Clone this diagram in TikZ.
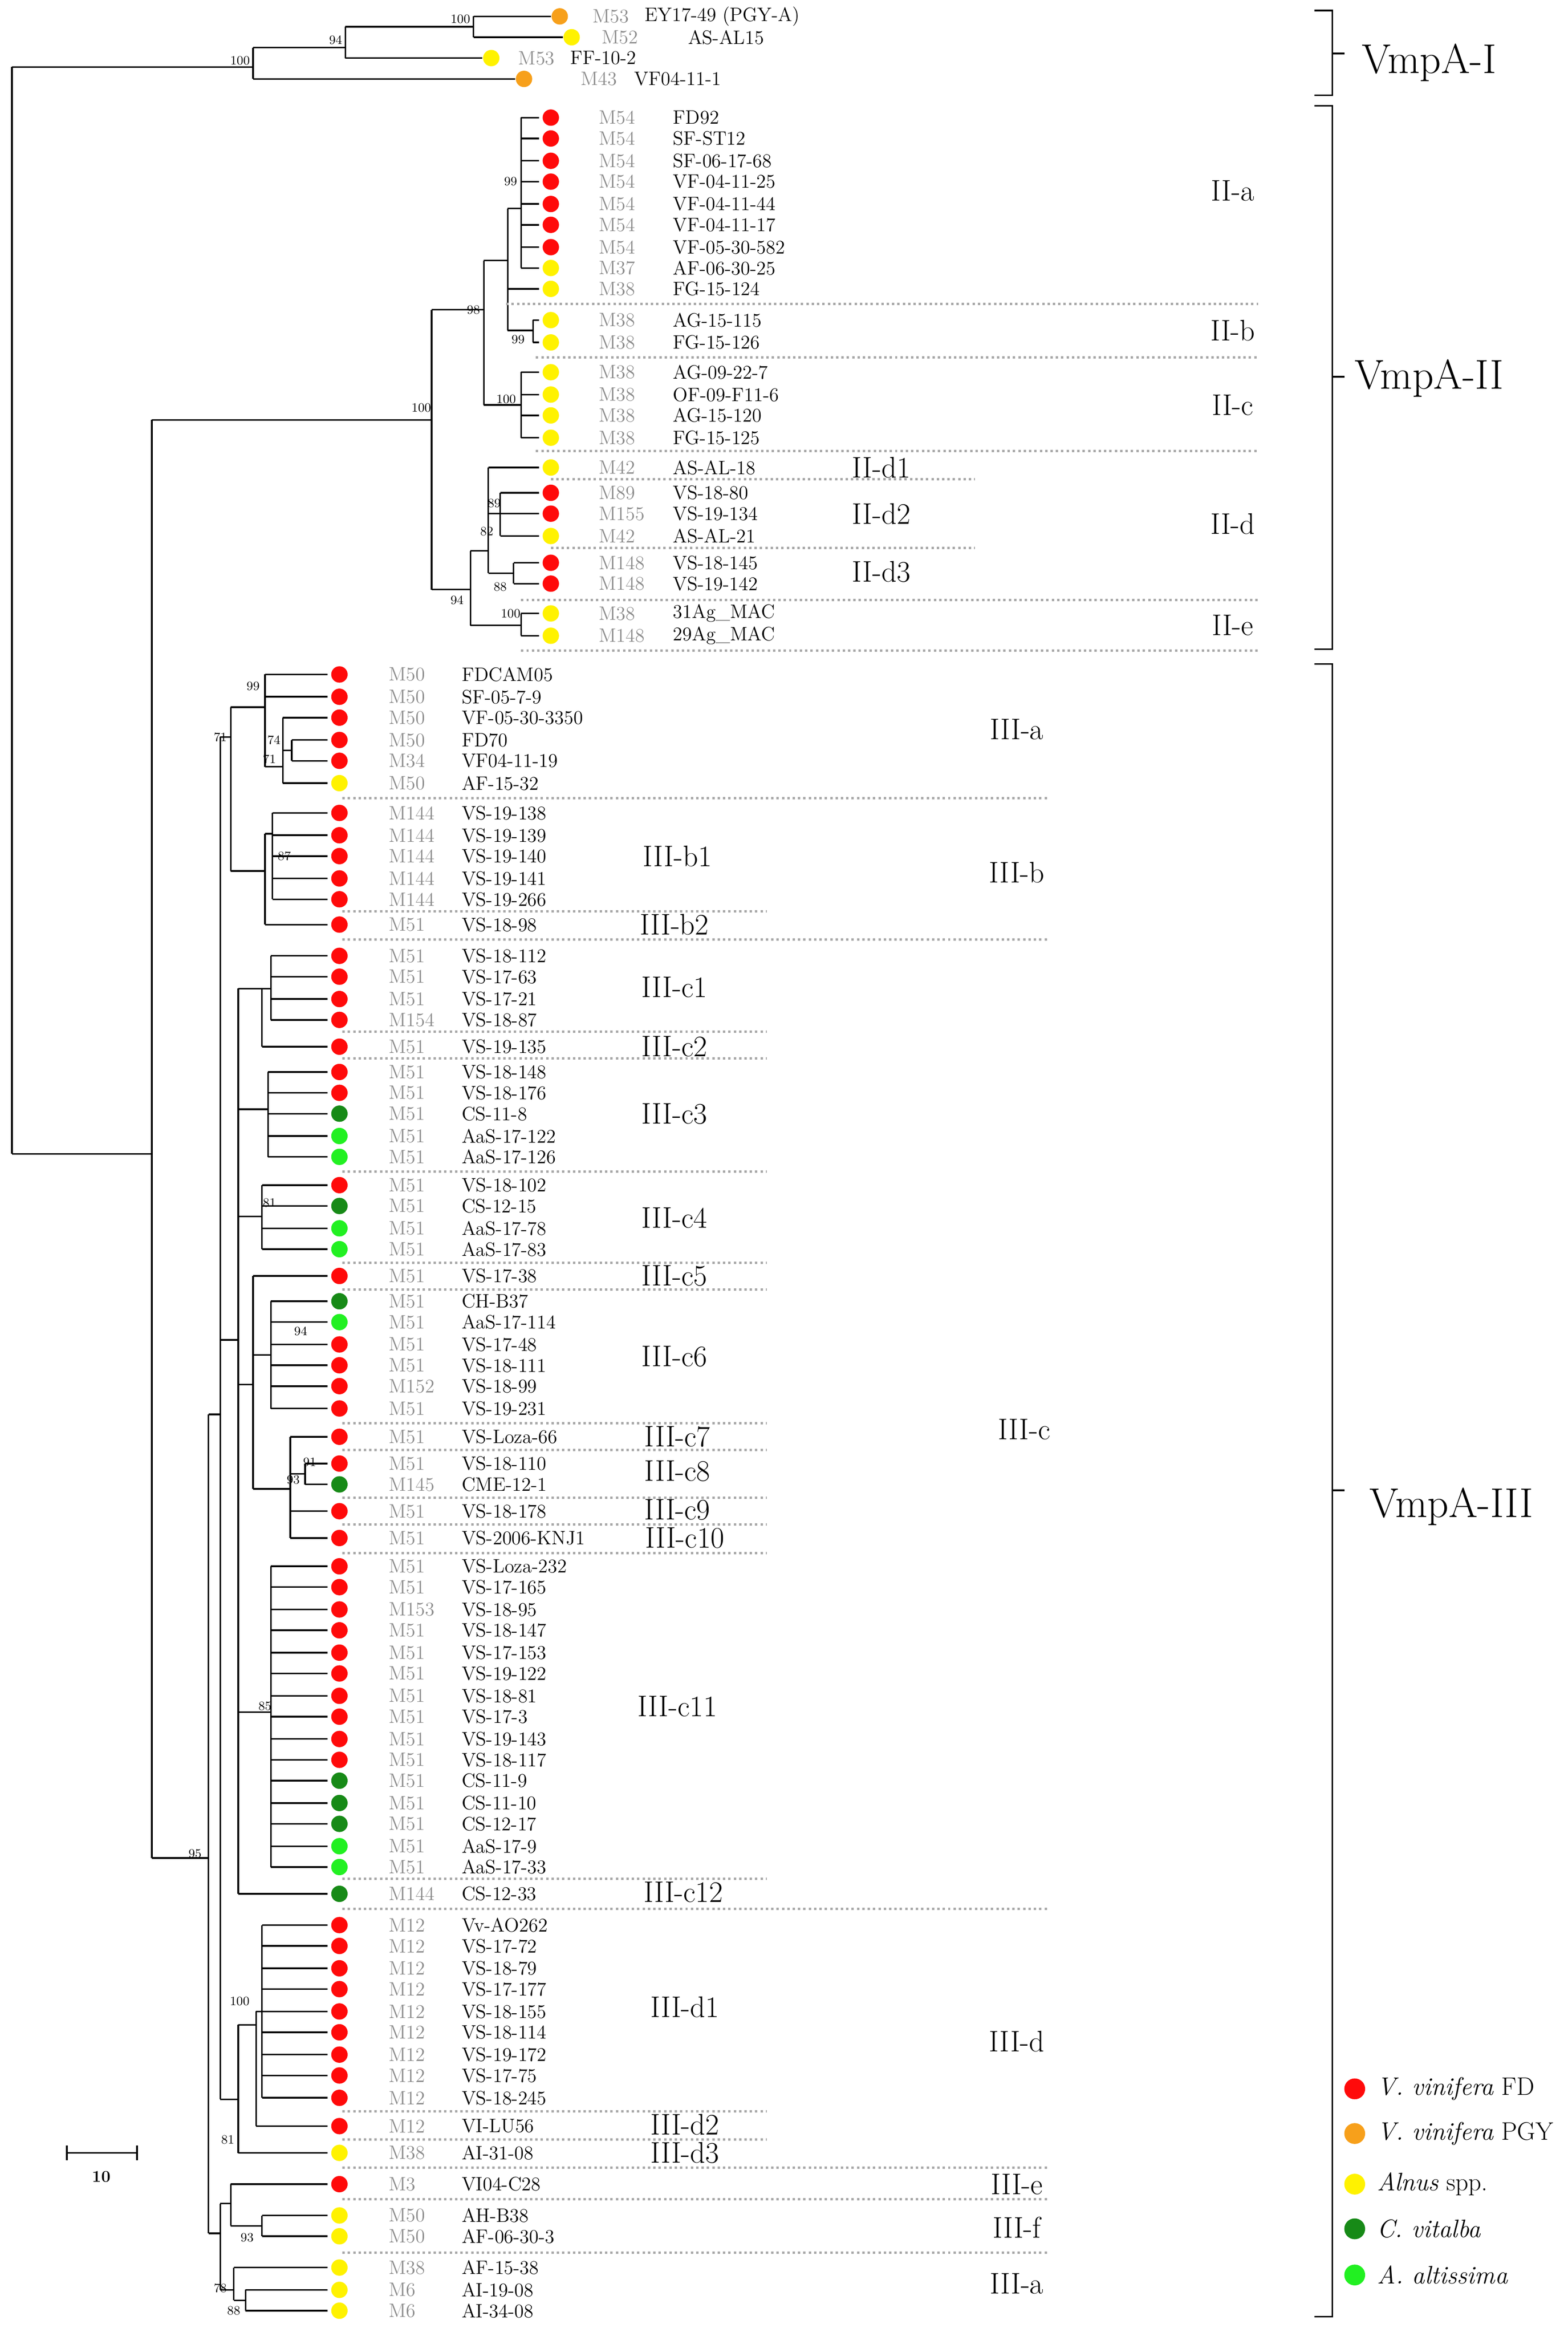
\documentclass[tikz,border=0pt]{standalone}
\usetikzlibrary{calc}
\definecolor{cR}{HTML}{FF0A0A}
\definecolor{cO}{HTML}{F7A01B}
\definecolor{cY}{HTML}{FFF200}
\definecolor{cD}{HTML}{178A17}
\definecolor{cL}{HTML}{22F022}
\definecolor{cM}{HTML}{8C8C8C}
\definecolor{cS}{HTML}{A8A8A8}
\tikzset{br/.style={line width=1.1pt,black},
 sep/.style={cS,dotted,line width=1.6pt},
 mlab/.style={anchor=west,inner sep=0pt,text=cM,font=\fontsize{13}{13}\selectfont},
 nlab/.style={anchor=west,inner sep=0pt,font=\fontsize{13}{13}\selectfont},
 bs/.style={inner sep=0pt,font=\fontsize{8.5}{8.5}\selectfont},
 sub/.style={inner sep=0pt,font=\fontsize{20}{20}\selectfont},
 grp/.style={inner sep=0pt,font=\fontsize{28}{28}\selectfont}}
\newcommand{\vn}[5]{\draw[br] (#1,#2)--(#1,#3); \draw[br] (#4,#5)--(#1,#5);}
\begin{document}
\begin{tikzpicture}[x=1pt,y=-1pt]
\useasboundingbox (0,0) rectangle (1053,1569);
% VmpA-I
\draw[br] (8,45)--(8,775);
\vn{170}{32}{53}{8}{45}
\vn{232}{18}{39}{170}{32}
\vn{318}{11}{25}{232}{18}
\draw[br] (318,11)--(370,11) (318,25)--(378,25) (232,39)--(324,39) (170,53)--(346,53);
\node[bs,anchor=south east] at (168,44) {100};
\node[bs,anchor=south east] at (230,30) {94};
\node[bs,anchor=south east] at (316,16) {100};
\foreach \x/\y/\c/\m/\mx/\n/\nx in {376/11/cO/M53/398/EY17-49 (PGY-A)/433, 384/25/cY/M52/404/AS-AL15/462, 330/39/cY/M53/348/FF-10-2/383, 352/53/cO/M43/390/VF04-11-1/426}{
 \fill[\c] (\x,\y) circle (5.5);
 \node[mlab] at (\mx,\y) {\m};
 \node[nlab] at (\nx,\y) {\n};}
% VmpA-II tree
\vn{102}{282}{1248}{8}{775}
\vn{290}{208}{396}{102}{282}
\vn{325}{175}{272}{290}{208}
\vn{341}{140}{222}{325}{175}
\vn{350}{79}{180}{341}{140}
\foreach \y in {79,93,108,122,137,151,166,180} \draw[br] (350,\y)--(362,\y);
\draw[br] (341,194)--(362,194);
\vn{358}{215}{230}{341}{222}
\draw[br] (358,215)--(362,215) (358,230)--(362,230);
\vn{350}{250}{294}{325}{272}
\foreach \y in {250,265,279,294} \draw[br] (350,\y)--(362,\y);
\vn{316}{370}{420}{290}{396}
\vn{328}{314}{385}{316}{370}
\draw[br] (328,314)--(362,314);
\vn{336}{331}{360}{328}{345}
\foreach \y in {331,345,360} \draw[br] (336,\y)--(362,\y);
\vn{345}{378}{392}{328}{385}
\draw[br] (345,378)--(362,378) (345,392)--(362,392);
\vn{350}{412}{427}{316}{420}
\draw[br] (350,412)--(362,412) (350,427)--(362,427);
\node[bs] at (283,274) {100};
\node[bs] at (318,208) {98};
\node[bs] at (343,122) {99};
\node[bs] at (348,228) {99};
\node[bs] at (340,268) {100};
\node[bs] at (307,403) {94};
\node[bs] at (332,338) {89};
\node[bs] at (327,357) {82};
\node[bs] at (336,394) {88};
\node[bs] at (343,412) {100};
\foreach \y/\c/\m/\n in {79/cR/M54/FD92, 93/cR/M54/SF-ST12, 108/cR/M54/SF-06-17-68, 122/cR/M54/VF-04-11-25, 137/cR/M54/VF-04-11-44, 151/cR/M54/VF-04-11-17, 166/cR/M54/VF-05-30-582, 180/cY/M37/AF-06-30-25, 194/cY/M38/FG-15-124, 215/cY/M38/AG-15-115, 230/cY/M38/FG-15-126, 250/cY/M38/AG-09-22-7, 265/cY/M38/OF-09-F11-6, 279/cY/M38/AG-15-120, 294/cY/M38/FG-15-125, 314/cY/M42/AS-AL-18, 331/cR/M89/VS-18-80, 345/cR/M155/VS-19-134, 360/cY/M42/AS-AL-21, 378/cR/M148/VS-18-145, 392/cR/M148/VS-19-142, 412/cY/M38/31Ag\_MAC, 427/cY/M148/29Ag\_MAC}{
 \fill[\c] (370,\y) circle (5.5);
 \node[mlab] at (402,\y) {\m};
 \node[nlab] at (452,\y) {\n};}
\foreach \y/\a/\b in {204/340/845, 240/360/845, 303/360/845, 322/370/655, 368/370/655, 403/350/845, 437/350/845} \draw[sep] (\a,\y)--(\b,\y);
\foreach \t/\x/\y in {II-a/828/128, II-b/828/222, II-c/828/272, II-d/828/352, II-e/828/420, II-d1/592/314, II-d2/592/345, II-d3/592/384} \node[sub] at (\x,\y) {\t};
% VmpA-III tree
\vn{140}{950}{1500}{102}{1248}
\vn{148}{495}{1410}{140}{950}
\vn{155}{475}{585}{148}{495}
\vn{178}{453}{515}{155}{475}
\draw[br] (178,453)--(220,453) (178,468)--(220,468);
\vn{190}{482}{526}{178}{515}
\draw[br] (190,482)--(220,482) (207,526)--(220,526) (190,526)--(207,526);
\vn{196}{497}{511}{190}{504}
\draw[br] (196,497)--(220,497) (196,511)--(220,511);
\vn{178}{560}{621}{155}{585}
\vn{183}{546}{604}{178}{560}
\foreach \y in {546,561,575,590,604} \draw[br] (183,\y)--(220,\y);
\draw[br] (178,621)--(220,621);
\vn{160}{664}{1272}{148}{900}
\vn{176}{664}{703}{160}{664}
\vn{182}{642}{685}{176}{664}
\foreach \y in {642,656,671,685} \draw[br] (182,\y)--(220,\y);
\draw[br] (176,703)--(220,703);
\vn{180}{720}{777}{160}{745}
\foreach \y in {720,734,748,763,777} \draw[br] (180,\y)--(220,\y);
\vn{176}{796}{839}{160}{817}
\foreach \y in {796,810,825,839} \draw[br] (176,\y)--(220,\y);
\vn{170}{857}{1000}{160}{930}
\draw[br] (170,857)--(220,857);
\vn{182}{874}{946}{170}{910}
\foreach \y in {874,888,903,917,931,946} \draw[br] (182,\y)--(220,\y);
\vn{195}{965}{1033}{170}{1000}
\foreach \y in {965,1015,1033} \draw[br] (195,\y)--(220,\y);
\vn{205}{983}{997}{195}{990}
\draw[br] (205,983)--(220,983) (205,997)--(220,997);
\vn{182}{1052}{1254}{160}{1150}
\foreach \y in {1052,1066,1081,1095,1110,1124,1139,1153,1168,1182,1196,1211,1225,1240,1254} \draw[br] (182,\y)--(220,\y);
\draw[br] (160,1272)--(220,1272);
\vn{160}{1360}{1446}{148}{1410}
\vn{172}{1351}{1428}{160}{1360}
\vn{176}{1293}{1409}{172}{1351}
\foreach \y in {1293,1307,1322,1336,1351,1365,1380,1394,1409} \draw[br] (176,\y)--(220,\y);
\draw[br] (172,1428)--(220,1428) (160,1446)--(220,1446);
\vn{148}{1480}{1538}{140}{1500}
\vn{155}{1467}{1495}{148}{1480}
\draw[br] (155,1467)--(220,1467);
\vn{176}{1488}{1502}{155}{1495}
\draw[br] (176,1488)--(220,1488) (176,1502)--(220,1502);
\vn{157}{1523}{1545}{148}{1538}
\draw[br] (157,1523)--(220,1523);
\vn{165}{1538}{1552}{157}{1545}
\draw[br] (165,1538)--(220,1538) (165,1552)--(220,1552);
\foreach \t/\x/\y in {95/131/1245, 71/148/495, 99/170/461, 74/184/497, 71/181/510, 87/191/575, 81/181/808, 94/202/894, 91/208/982, 93/197/994, 85/178/1146, 100/161/1344, 81/153/1437, 93/166/1503, 78/148/1537, 88/157/1552} \node[bs] at (\x,\y) {\t};
\foreach \y/\c/\m/\n in {453/cR/M50/FDCAM05, 468/cR/M50/SF-05-7-9, 482/cR/M50/VF-05-30-3350, 497/cR/M50/FD70, 511/cR/M34/VF04-11-19, 526/cY/M50/AF-15-32, 546/cR/M144/VS-19-138, 561/cR/M144/VS-19-139, 575/cR/M144/VS-19-140, 590/cR/M144/VS-19-141, 604/cR/M144/VS-19-266, 621/cR/M51/VS-18-98, 642/cR/M51/VS-18-112, 656/cR/M51/VS-17-63, 671/cR/M51/VS-17-21, 685/cR/M154/VS-18-87, 703/cR/M51/VS-19-135, 720/cR/M51/VS-18-148, 734/cR/M51/VS-18-176, 748/cD/M51/CS-11-8, 763/cL/M51/AaS-17-122, 777/cL/M51/AaS-17-126, 796/cR/M51/VS-18-102, 810/cD/M51/CS-12-15, 825/cL/M51/AaS-17-78, 839/cL/M51/AaS-17-83, 857/cR/M51/VS-17-38, 874/cD/M51/CH-B37, 888/cL/M51/AaS-17-114, 903/cR/M51/VS-17-48, 917/cR/M51/VS-18-111, 931/cR/M152/VS-18-99, 946/cR/M51/VS-19-231, 965/cR/M51/VS-Loza-66, 983/cR/M51/VS-18-110, 997/cD/M145/CME-12-1, 1015/cR/M51/VS-18-178, 1033/cR/M51/VS-2006-KNJ1, 1052/cR/M51/VS-Loza-232, 1066/cR/M51/VS-17-165, 1081/cR/M153/VS-18-95, 1095/cR/M51/VS-18-147, 1110/cR/M51/VS-17-153, 1124/cR/M51/VS-19-122, 1139/cR/M51/VS-18-81, 1153/cR/M51/VS-17-3, 1168/cR/M51/VS-19-143, 1182/cR/M51/VS-18-117, 1196/cD/M51/CS-11-9, 1211/cD/M51/CS-11-10, 1225/cD/M51/CS-12-17, 1240/cL/M51/AaS-17-9, 1254/cL/M51/AaS-17-33, 1272/cD/M144/CS-12-33, 1293/cR/M12/Vv-AO262, 1307/cR/M12/VS-17-72, 1322/cR/M12/VS-18-79, 1336/cR/M12/VS-17-177, 1351/cR/M12/VS-18-155, 1365/cR/M12/VS-18-114, 1380/cR/M12/VS-19-172, 1394/cR/M12/VS-17-75, 1409/cR/M12/VS-18-245, 1428/cR/M12/VI-LU56, 1446/cY/M38/AI-31-08, 1467/cR/M3/VI04-C28, 1488/cY/M50/AH-B38, 1502/cY/M50/AF-06-30-3, 1523/cY/M38/AF-15-38, 1538/cY/M6/AI-19-08, 1552/cY/M6/AI-34-08}{
 \fill[\c] (228,\y) circle (5.5);
 \node[mlab] at (261,\y) {\m};
 \node[nlab] at (310,\y) {\n};}
\foreach \y/\b in {536/705, 612/515, 631/705, 693/515, 711/515, 787/515, 848/515, 866/515, 956/515, 974/515, 1006/515, 1024/515, 1043/515, 1262/515, 1282/705, 1418/515, 1437/515, 1456/705, 1477/705, 1513/705} \draw[sep] (230,\y)--(\b,\y);
\foreach \t/\x/\y in {III-a/683/490, III-b/683/586, III-c/688/960, III-d/683/1371, III-e/683/1467, III-f/683/1496, III-a/683/1534, III-b1/455/575, III-b2/453/621, III-c1/453/663, III-c2/453/703, III-c3/453/748, III-c4/453/818, III-c5/453/857, III-c6/453/911, III-c7/455/965, III-c8/455/988, III-c9/455/1014, III-c10/460/1033, III-c11/455/1146, III-c12/459/1271, III-d1/460/1348, III-d2/460/1427, III-d3/460/1446} \node[sub] at (\x,\y) {\t};
% brackets
\draw[line width=1.2pt] (883,7)--(895,7)--(895,64)--(883,64) (895,36)--(903,36);
\draw[line width=1.2pt] (883,71)--(895,71)--(895,436)--(883,436) (895,253)--(903,253);
\draw[line width=1.2pt] (883,446)--(895,446)--(895,1556)--(883,1556) (895,1001)--(903,1001);
\node[grp] at (960,42) {VmpA-I};
\node[grp] at (960,254) {VmpA-II};
\node[grp] at (975,1012) {VmpA-III};
% legend
\foreach \y/\c/\t in {1403/cR/{\textit{V. vinifera} FD}, 1433/cO/{\textit{V. vinifera} PGY}, 1467/cY/{\textit{Alnus} spp.}, 1497/cD/{\textit{C. vitalba}}, 1528/cL/{\textit{A. altissima}}}{
 \fill[\c] (910,\y) circle (7);
 \node[anchor=west,inner sep=0pt,font=\fontsize{17}{17}\selectfont] at (925,\y) {\t};}
% scale bar
\draw[line width=1.2pt] (45,1446)--(92,1446) (45,1441)--(45,1451) (92,1441)--(92,1451);
\node[inner sep=0pt,font=\bfseries\fontsize{11}{11}\selectfont] at (68,1462) {10};
\end{tikzpicture}
\end{document}
